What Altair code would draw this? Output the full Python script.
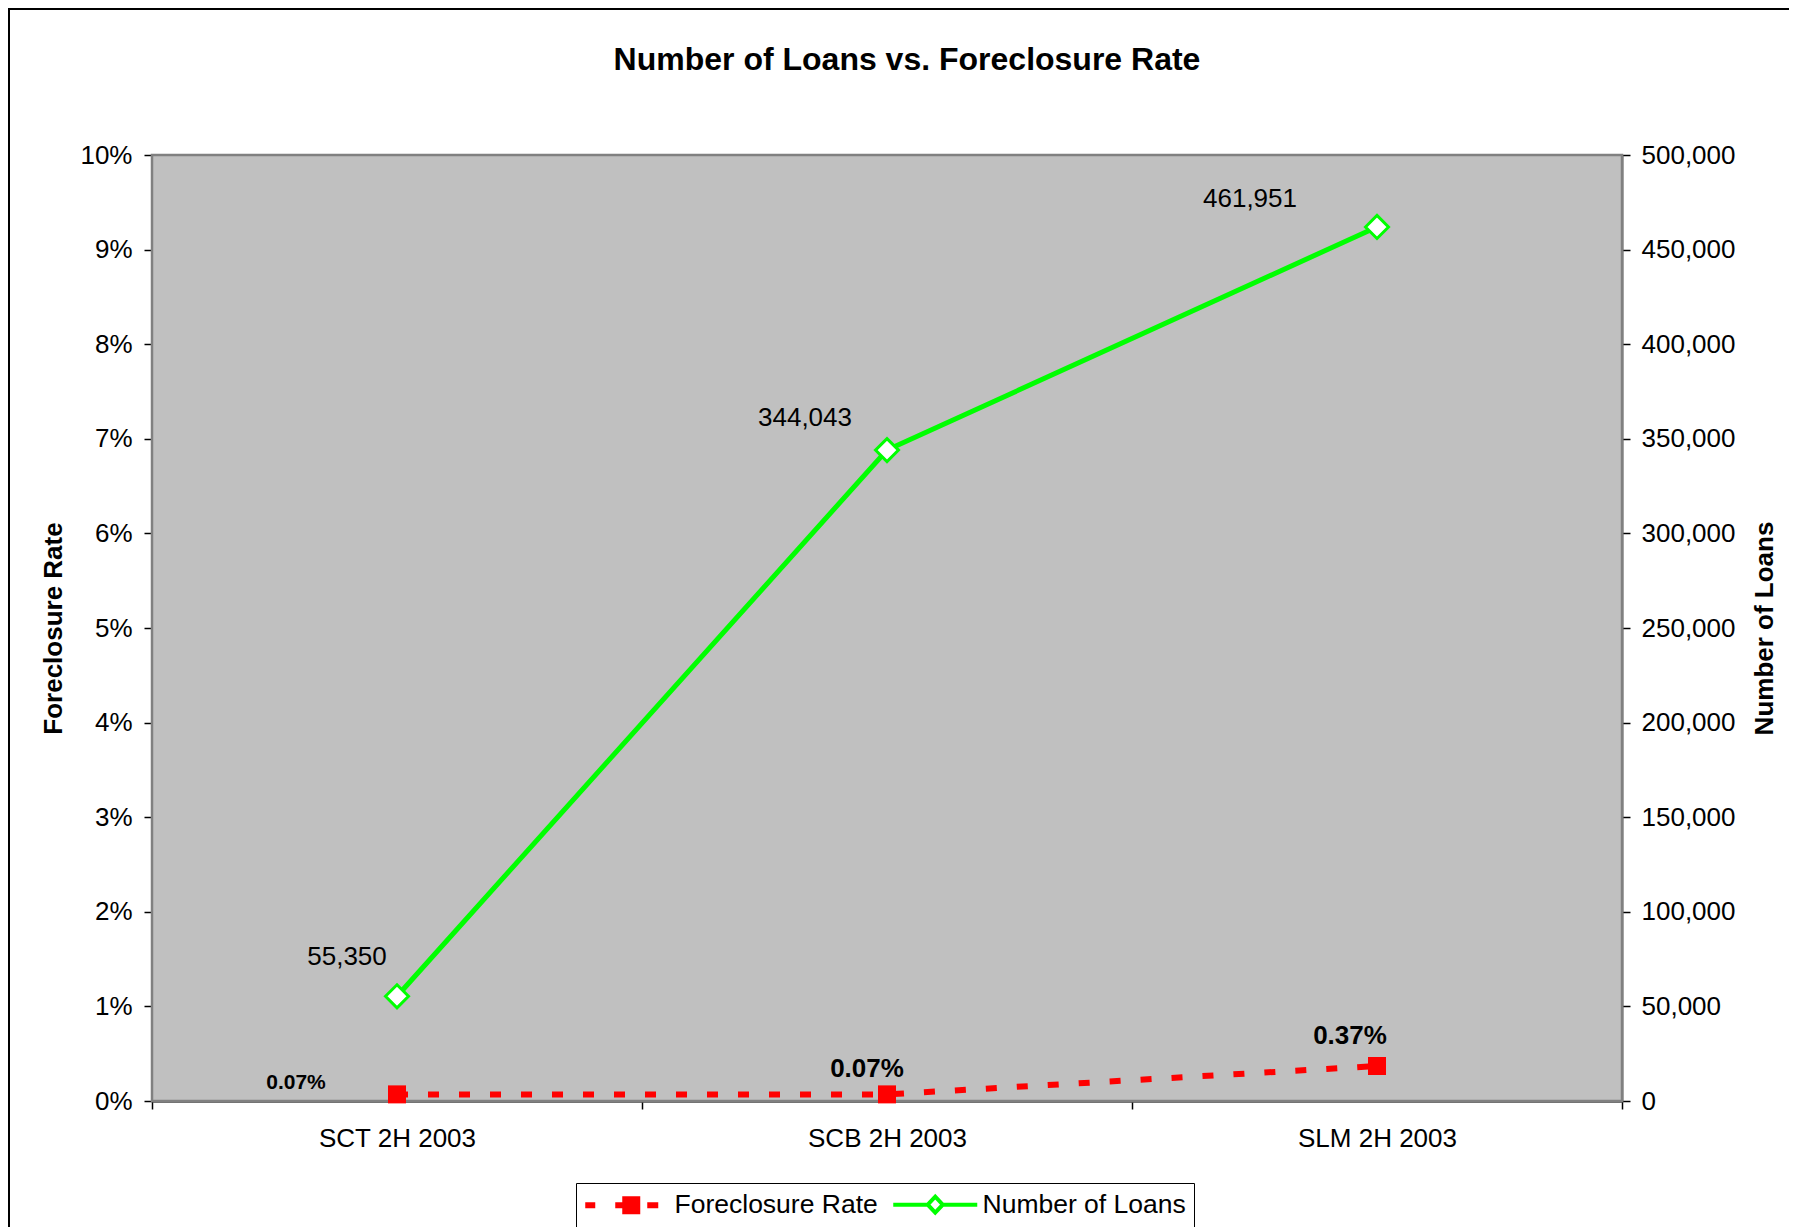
import altair as alt
import pandas as pd

# ---- data ----
categories = ["SCT 2H 2003", "SCB 2H 2003", "SLM 2H 2003"]
foreclosure_rate = [0.0007, 0.0007, 0.0037]
number_of_loans = [55350, 344043, 461951]
rate_label_text = ["0.07%", "0.07%", "0.37%"]
loan_label_text = ["55,350", "344,043", "461,951"]
series_names = ["Foreclosure Rate", "Number of Loans"]
rate_ticks = [0.0, 0.01, 0.02, 0.03, 0.04, 0.05, 0.06, 0.07, 0.08, 0.09, 0.10]
loan_ticks = [0, 50000, 100000, 150000, 200000, 250000, 300000, 350000, 400000, 450000, 500000]

df = pd.DataFrame({
    "category": categories,
    "rate": foreclosure_rate,
    "loans": number_of_loans,
    "rate_label": rate_label_text,
    "loan_label": loan_label_text,
})
legend_df = pd.DataFrame({"series": series_names})

FONT = "Liberation Sans"
RED = "#FF0000"
GREEN = "#00FF00"
W, H = 1470, 946

x_enc = alt.X(
    "category:N", sort=categories,
    scale=alt.Scale(type="band", domain=categories, paddingInner=0, paddingOuter=0),
    axis=alt.Axis(title=None, labelAngle=0, tickBand="extent", labelPadding=29,
                  labelBaseline="middle", domainColor="#404040", domainWidth=2.5),
)
y_rate = alt.Y(
    "rate:Q", scale=alt.Scale(domain=[0, 0.1], nice=False),
    axis=alt.Axis(orient="left", values=rate_ticks, format=".0%", title="Foreclosure Rate",
                  labelPadding=12, titleAngle=270, titleBaseline="alphabetic",
                  titleAlign="center", titleX=-91, titleY=H / 2),
)
y_loans = alt.Y(
    "loans:Q", scale=alt.Scale(domain=[0, 500000], nice=False),
    axis=alt.Axis(orient="right", values=loan_ticks, format=",d", title="Number of Loans",
                  labelPadding=11, titleAngle=270, titleBaseline="alphabetic",
                  titleAlign="center", titleX=150, titleY=H / 2,
                  domainColor="#606060", domainWidth=2),
)

base = alt.Chart(df)

# Foreclosure rate series (left axis)
rate_line = base.mark_line(color=RED, strokeWidth=6, strokeDash=[11, 20]).encode(x=x_enc, y=y_rate)
rate_pts = base.mark_point(shape="square", filled=True, color=RED, size=324, opacity=1).encode(x=x_enc, y=y_rate)
rate_text_style = {
    categories[0]: dict(dx=-101, dy=-11, fontSize=21),
    categories[1]: dict(dx=-20, dy=-25, fontSize=26),
    categories[2]: dict(dx=-27, dy=-30, fontSize=26),
}
rate_texts = [
    base.transform_filter(alt.datum.category == c)
    .mark_text(font=FONT, fontWeight="bold", color="black", **st)
    .encode(x=x_enc, y=y_rate, text="rate_label:N")
    for c, st in rate_text_style.items()
]
rate_layer = alt.layer(rate_line, rate_pts, *rate_texts)

# Number of loans series (right axis)
loan_line = base.mark_line(color=GREEN, strokeWidth=5).encode(x=x_enc, y=y_loans)
loan_pts = base.mark_point(shape="diamond", filled=True, fill="white", stroke=GREEN,
                           strokeWidth=3, size=529, opacity=1).encode(x=x_enc, y=y_loans)
loan_text_style = {
    categories[0]: dict(dx=-50, dy=-39),
    categories[1]: dict(dx=-82, dy=-32),
    categories[2]: dict(dx=-127, dy=-28),
}
loan_texts = [
    base.transform_filter(alt.datum.category == c)
    .mark_text(font=FONT, fontSize=26, color="black", **st)
    .encode(x=x_enc, y=y_loans, text="loan_label:N")
    for c, st in loan_text_style.items()
]
loan_layer = alt.layer(loan_line, loan_pts, *loan_texts)

# Legend (custom line+marker symbols)
red_path = ("M-1,-0.1H-0.4V0.1H-1Z M2,-0.1H2.7V0.1H2Z M2.7,-0.7H4.1V0.7H2.7Z "
            "M5.2,-0.1H5.9V0.1H5.2Z")
green_path = "M-1.2,0H2.25M3.75,0H7.2M2.25,0L3,-0.8L3.75,0L3,0.8Z"
leg = alt.Legend(title=None, orient="none", legendX=576 - 152, legendY=1183 - 155,
                 direction="horizontal", symbolSize=400, symbolStrokeWidth=4,
                 labelFont=FONT, labelFontSize=26.5, labelColor="black", labelLimit=500,
                 labelOffset=64, columnPadding=7, padding=8,
                 strokeColor="black", fillColor="white")
legend_layer = alt.Chart(legend_df).transform_filter("false").mark_point(filled=True, opacity=1).encode(
    fill=alt.Fill("series:N", scale=alt.Scale(domain=series_names, range=[RED, "#FFFFFF"]), legend=leg),
    stroke=alt.Stroke("series:N", scale=alt.Scale(domain=series_names, range=[RED, GREEN]), legend=leg),
    shape=alt.Shape("series:N", scale=alt.Scale(domain=series_names, range=[red_path, green_path]), legend=leg),
)

# decorative frames: outer chart-area border and grey plot-area background
one_row = pd.DataFrame({"k": [0]})
border = alt.Chart(one_row).mark_rect(
    fill="transparent", stroke="black", strokeWidth=2
).encode(x=alt.value(-143), x2=alt.value(3000), y=alt.value(-146), y2=alt.value(3000))
plot_bg = alt.Chart(one_row).mark_rect(
    fill="#C0C0C0", stroke="#808080", strokeWidth=2.5
).encode(x=alt.value(0), x2=alt.value(W), y=alt.value(0), y2=alt.value(H))

chart = (
    alt.layer(border, plot_bg, rate_layer, loan_layer, legend_layer)
    .resolve_scale(y="independent")
    .properties(
        width=W, height=H,
        background="white",
        autosize=alt.AutoSizeParams(type="none"),
        padding={"left": 144, "top": 147, "right": 167, "bottom": 126},
        title=alt.TitleParams(
            text="Number of Loans vs. Foreclosure Rate", font=FONT, fontSize=32,
            fontWeight="bold", color="black", anchor="middle", frame="group",
            offset=-93.5, baseline="alphabetic", dx=20,
        ),
    )
    .configure_view(fill="#C0C0C0", stroke="#808080", strokeWidth=2)
    .configure_axis(
        labelFont=FONT, labelFontSize=26, labelColor="black",
        titleFont=FONT, titleFontSize=26, titleFontWeight="bold", titleColor="black",
        tickColor="black", tickSize=8, tickWidth=1.5,
        domainColor="black", domainWidth=1.5, grid=False,
    )
)

chart.save("out.html", embed_options={"renderer": "svg", "actions": False})
